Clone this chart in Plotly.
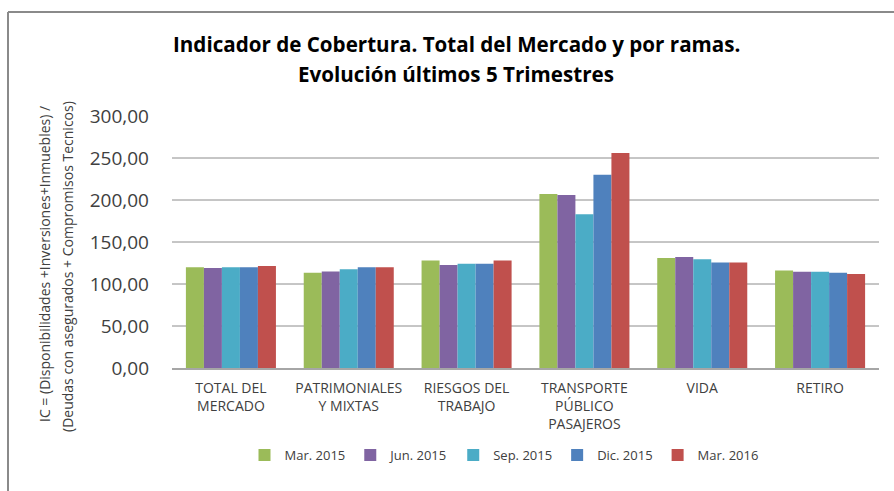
import plotly.graph_objects as go

categories = ["TOTAL DEL<br>MERCADO", "PATRIMONIALES<br>Y MIXTAS", "RIESGOS DEL<br>TRABAJO",
              "TRANSPORTE<br>PÚBLICO<br>PASAJEROS", "VIDA", "RETIRO"]
series_names = ["Mar. 2015", "Jun. 2015", "Sep. 2015", "Dic. 2015", "Mar. 2016"]
mar_2015 = [120, 113.5, 128, 207, 131, 116]
jun_2015 = [119, 115, 122.5, 206, 132, 114.5]
sep_2015 = [120, 117.5, 124, 183, 129.5, 114.5]
dic_2015 = [120, 120, 124, 230, 125.5, 113.5]
mar_2016 = [121.5, 120, 128, 256, 125.5, 112]
series_values = [mar_2015, jun_2015, sep_2015, dic_2015, mar_2016]
colors = ["#9BBB59", "#8064A2", "#4BACC6", "#4F81BD", "#C0504D"]
y_ticks = [0, 50, 100, 150, 200, 250, 300]
grid_values = [50, 100, 150, 200, 250]

W, H = 894, 491
L, R, T, B = 172, 15, 116, 123
pw, ph = W - L - R, H - T - B


def px(x):
    return (x - L) / pw


def py(y):
    return (H - B - y) / ph


FONT = "Open Sans"
TXT = "#404040"

fig = go.Figure()
for name, vals, c in zip(series_names, series_values, colors):
    fig.add_trace(go.Bar(x=categories, y=vals, name=name, marker_color=c,
                         marker_line_width=0))

shapes = []
for g in grid_values:
    shapes.append(dict(type="line", xref="paper", yref="y", x0=0, x1=1, y0=g, y1=g,
                       line=dict(color="#8c8c8c", width=1), layer="below"))
# outer frame (top and left)
shapes.append(dict(type="line", xref="paper", yref="paper", x0=px(8), x1=px(W + 5),
                   y0=py(12), y1=py(12), line=dict(color="#8a8a8a", width=2)))
shapes.append(dict(type="line", xref="paper", yref="paper", x0=px(8), x1=px(8),
                   y0=py(12), y1=py(H + 5), line=dict(color="#8a8a8a", width=2)))

annotations = [
    dict(text="<b>Indicador de Cobertura. Total del Mercado y por ramas.</b>", xref="paper", yref="paper",
         x=px(456), y=py(44), xanchor="center", yanchor="middle", showarrow=False,
         font=dict(family=FONT, size=20.6, color="#000000")),
    dict(text="<b>Evolución últimos 5 Trimestres</b>", xref="paper", yref="paper",
         x=px(456), y=py(74), xanchor="center", yanchor="middle", showarrow=False,
         font=dict(family=FONT, size=20.6, color="#000000")),
    dict(text="IC = (Disponibilidades +Inversiones+Inmuebles) /", xref="paper", yref="paper",
         x=px(44), y=py(264), xanchor="center", yanchor="middle", showarrow=False, textangle=-90,
         font=dict(family=FONT, size=14, color=TXT)),
    dict(text="(Deudas con asegurados + Compromisos Tecnicos)", xref="paper", yref="paper",
         x=px(67), y=py(267), xanchor="center", yanchor="middle", showarrow=False, textangle=-90,
         font=dict(family=FONT, size=14, color=TXT)),
]

fig.update_layout(
    width=W, height=H,
    margin=dict(l=L, r=R, t=T, b=B, pad=0),
    paper_bgcolor="white", plot_bgcolor="white",
    barmode="group", bargap=0.236, bargroupgap=0,
    separators=",.",
    showlegend=True,
    legend=dict(orientation="h", x=px(504), xanchor="center", y=py(455), yanchor="middle",
                font=dict(family=FONT, size=13, color=TXT),
                bgcolor="rgba(0,0,0,0)"),
    shapes=shapes, annotations=annotations,
    font=dict(family=FONT, color=TXT),
)
fig.update_yaxes(range=[0, 300], tickvals=y_ticks, tickformat=".2f", showgrid=False,
                 zeroline=False, showline=False, ticks="", ticklabelstandoff=22,
                 tickfont=dict(family=FONT, size=19, color=TXT))
fig.update_xaxes(showline=True, linecolor="#a6a6a6", linewidth=2, ticks="",
                 ticklabelstandoff=6, tickfont=dict(family=FONT, size=14, color=TXT),
                 tickangle=0)

fig.write_html("out.html", config={"displayModeBar": False},
               post_script="document.body.style.margin='0';document.body.style.overflow='hidden';")
